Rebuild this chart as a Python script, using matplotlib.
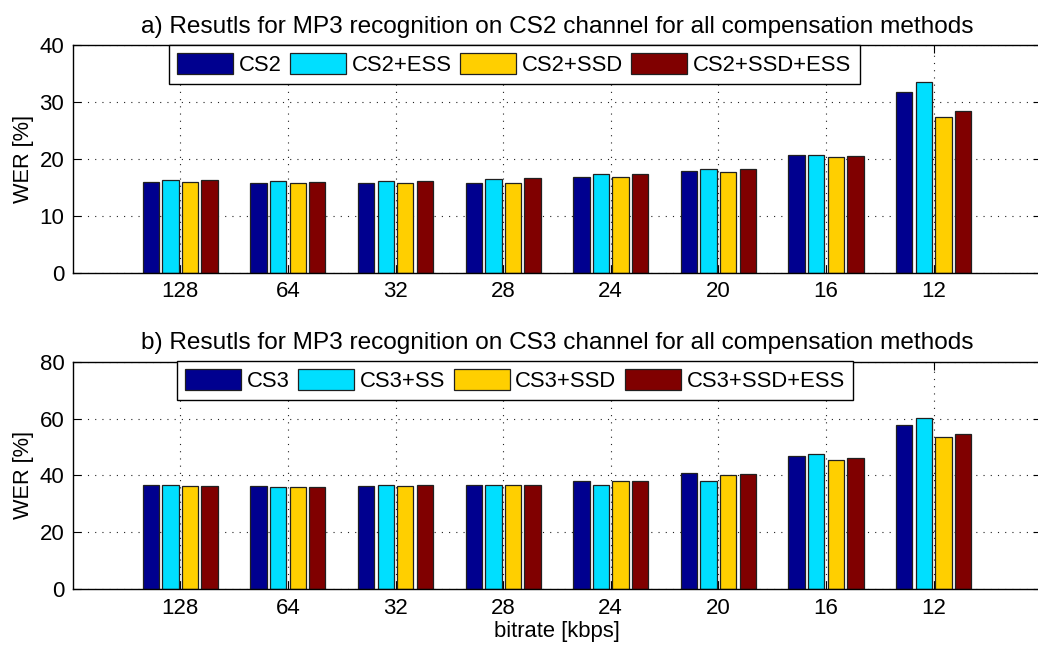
import numpy as np
import matplotlib
matplotlib.use("Agg")
import matplotlib.pyplot as plt

plt.rcParams['font.family'] = ['Liberation Sans', 'DejaVu Sans']

bitrates = ['128', '64', '32', '28', '24', '20', '16', '12']

cs2_names = ['CS2', 'CS2+ESS', 'CS2+SSD', 'CS2+SSD+ESS']
cs2 = [15.9, 15.7, 15.7, 15.8, 16.9, 17.8, 20.6, 31.8]
cs2_ess = [16.2, 16.1, 16.1, 16.4, 17.3, 18.2, 20.7, 33.5]
cs2_ssd = [15.9, 15.7, 15.7, 15.8, 16.9, 17.7, 20.4, 27.3]
cs2_ssd_ess = [16.3, 16.0, 16.1, 16.6, 17.3, 18.2, 20.5, 28.4]

cs3_names = ['CS3', 'CS3+SS', 'CS3+SSD', 'CS3+SSD+ESS']
cs3 = [36.5, 36.2, 36.2, 36.8, 38.2, 40.7, 46.7, 57.8]
cs3_ss = [36.5, 36.0, 36.5, 36.6, 36.7, 38.0, 47.4, 60.1]
cs3_ssd = [36.2, 36.0, 36.2, 36.8, 38.2, 40.3, 45.6, 53.6]
cs3_ssd_ess = [36.2, 36.0, 36.5, 36.6, 38.0, 40.6, 46.1, 54.7]

colors = ['#00008F', '#00DFFF', '#FFCF00', '#800000']

fig = plt.figure(figsize=(10.38, 6.45), dpi=100)
ax_a = fig.add_axes([0.0700, 0.5772, 0.9331, 0.3530])
ax_b = fig.add_axes([0.0700, 0.0864, 0.9331, 0.3529])

x = np.arange(1, len(bitrates) + 1)
step = 0.182
width = 0.152
offsets = (np.arange(4) - 1.5) * step


def draw(ax, series, names, ymax, title, legend_pos):
    handles = []
    for i, (vals, name) in enumerate(zip(series, names)):
        h = ax.bar(x + offsets[i], vals, width, color=colors[i],
                   edgecolor='#202020', linewidth=0.9, label=name, zorder=2)
        handles.append(h)
    ax.set_xlim(0, 9)
    ax.set_ylim(0, ymax)
    ax.set_xticks(x)
    ax.set_xticklabels(bitrates)
    ax.set_yticks(np.linspace(0, ymax, 5))
    ax.grid(True, linestyle=(0, (1, 5.5)), color='#222222', linewidth=0.8)
    ax.set_axisbelow(True)
    ax.tick_params(direction='in', length=6, width=0.8, top=True, right=True,
                   labelsize=16, pad=6)
    for s in ax.spines.values():
        s.set_linewidth(1.0)
    ax.set_ylabel('WER [%]', fontsize=15.7, labelpad=4)
    ax.set_title(title, fontsize=17.6, pad=9)
    leg = fig.legend(handles=handles, labels=names, ncol=4, loc='upper left',
                     bbox_to_anchor=legend_pos, fontsize=15.8, frameon=True,
                     fancybox=False, framealpha=1, edgecolor='black',
                     handlelength=2.55, handleheight=1.05, handletextpad=0.26,
                     columnspacing=0.38, borderpad=0.38, borderaxespad=0)
    leg.get_frame().set_linewidth(1.0)
    return leg


draw(ax_a, [cs2, cs2_ess, cs2_ssd, cs2_ssd_ess], cs2_names, 40,
     'a) Resutls for MP3 recognition on CS2 channel for all compensation methods',
     (169 / 1038, 1 - 45 / 645))
draw(ax_b, [cs3, cs3_ss, cs3_ssd, cs3_ssd_ess], cs3_names, 80,
     'b) Resutls for MP3 recognition on CS3 channel for all compensation methods',
     (177 / 1038, 1 - 361 / 645))
ax_b.set_xlabel('bitrate [kbps]', fontsize=15.8, labelpad=2)

fig.savefig('out.png', dpi=100)
